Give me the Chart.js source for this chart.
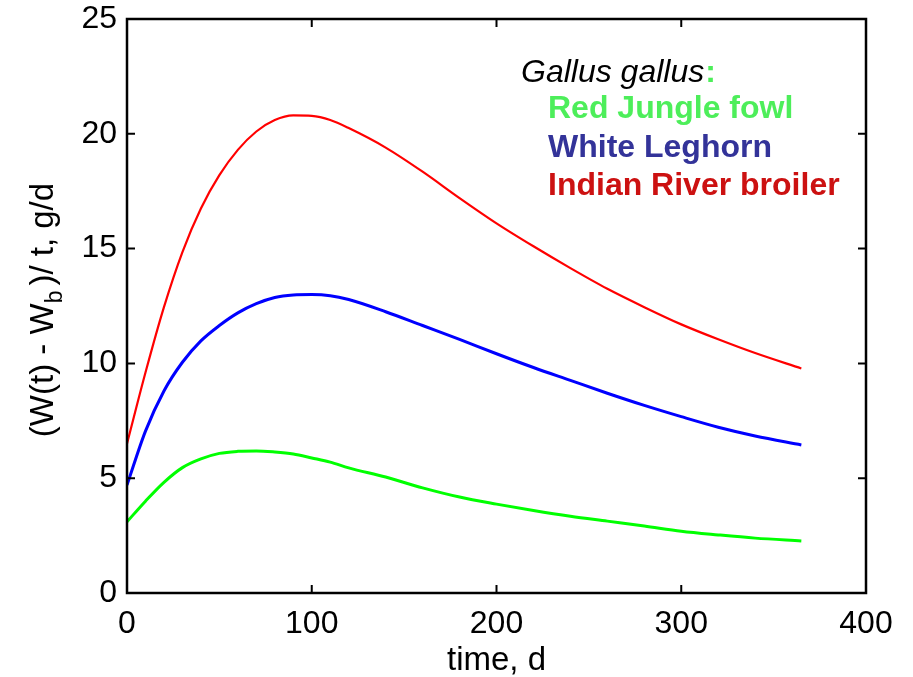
<html>
<head>
<script src="https://cdn.jsdelivr.net/npm/chart.js@4.4.0/dist/chart.umd.min.js"></script>
<style>
    body { margin: 0; background: #fff; }
    #wrap { position: relative; width: 913px; height: 677px; }
</style>
</head>
<body>
<div id="wrap"><canvas id="growthChart"></canvas></div>
<script>
// time in days, values in g/d
const days = [0, 10, 20, 30, 40, 50, 60, 70, 80, 90, 100, 110, 120, 140, 160, 180, 200, 220, 240, 260, 280, 300, 320, 340, 365];
const jungleFowl = [3.1, 4.0, 4.82, 5.46, 5.84, 6.08, 6.17, 6.19, 6.14, 6.05, 5.88, 5.7, 5.45, 5.05, 4.58, 4.18, 3.87, 3.59, 3.34, 3.13, 2.92, 2.69, 2.53, 2.39, 2.27];
const leghorn = [4.7, 7.05, 8.8, 10.05, 10.98, 11.65, 12.2, 12.6, 12.87, 12.98, 13.0, 12.95, 12.78, 12.25, 11.65, 11.05, 10.42, 9.82, 9.26, 8.7, 8.17, 7.68, 7.22, 6.84, 6.45];
const broiler = [6.5, 9.6, 12.45, 14.85, 16.75, 18.2, 19.3, 20.1, 20.6, 20.8, 20.78, 20.6, 20.25, 19.4, 18.35, 17.2, 16.1, 15.1, 14.15, 13.25, 12.45, 11.7, 11.05, 10.45, 9.78];

const xTicks = [0, 100, 200, 300, 400];
const yTicks = [0, 5, 10, 15, 20, 25];

const speciesLabel = "Gallus gallus";
const breedNames = ["Red Jungle fowl", "White Leghorn", "Indian River broiler"];
const breedTextColors = ["#4dee5a", "#333399", "#cc1111"];

const FONT = '"Liberation Sans", Arial, sans-serif';

function pts(vals) {
    return days.map((d, i) => ({ x: d, y: vals[i] }));
}

// box, inward ticks, titles and the text legend
const decorPlugin = {
    id: 'decor',
    afterDraw(chart) {
        const ctx = chart.ctx;
        const a = chart.chartArea;
        const xs = chart.scales.x, ys = chart.scales.y;
        ctx.save();
        ctx.strokeStyle = '#000';
        ctx.lineWidth = 2.5;
        ctx.strokeRect(a.left, a.top, a.right - a.left, a.bottom - a.top);
        ctx.lineWidth = 2;
        ctx.beginPath();
        xTicks.forEach(v => {
            const p = xs.getPixelForValue(v);
            ctx.moveTo(p, a.bottom); ctx.lineTo(p, a.bottom - 8);
            ctx.moveTo(p, a.top); ctx.lineTo(p, a.top + 8);
        });
        yTicks.forEach(v => {
            const p = ys.getPixelForValue(v);
            ctx.moveTo(a.left, p); ctx.lineTo(a.left + 8, p);
            ctx.moveTo(a.right, p); ctx.lineTo(a.right - 8, p);
        });
        ctx.stroke();

        // x title
        ctx.fillStyle = '#000';
        ctx.font = '33px ' + FONT;
        ctx.textAlign = 'center';
        ctx.textBaseline = 'alphabetic';
        ctx.fillText('time, d', (a.left + a.right) / 2, 670);

        // y title with subscript
        const p1 = '(W(t) - W', sub = 'b', p2 = ')/ t, g/d';
        ctx.font = '33px ' + FONT;
        const w1 = ctx.measureText(p1).width;
        const w3 = ctx.measureText(p2).width;
        ctx.font = '23px ' + FONT;
        const w2 = ctx.measureText(sub).width;
        const total = w1 + w2 + 5 + w3;
        ctx.translate(53, 310);
        ctx.rotate(-Math.PI / 2);
        ctx.textAlign = 'left';
        let x0 = -total / 2;
        ctx.font = '33px ' + FONT;
        ctx.fillText(p1, x0, 0);
        ctx.font = '23px ' + FONT;
        ctx.fillText(sub, x0 + w1, 9);
        ctx.font = '33px ' + FONT;
        ctx.fillText(p2, x0 + w1 + w2 + 5, 0);
        ctx.restore();

        // legend text
        ctx.save();
        ctx.textAlign = 'left';
        ctx.textBaseline = 'alphabetic';
        ctx.font = 'italic 32px ' + FONT;
        ctx.fillStyle = '#000';
        ctx.fillText(speciesLabel, 521, 82);
        const sw = ctx.measureText(speciesLabel).width;
        ctx.fillStyle = breedTextColors[0];
        ctx.font = 'bold 32px ' + FONT;
        ctx.fillText(':', 521 + sw + 1, 82);
        breedNames.forEach((n, i) => {
            ctx.fillStyle = breedTextColors[i];
            ctx.fillText(n, 548, 118 + i * 38.5);
        });
        ctx.restore();
    }
};

new Chart(document.getElementById('growthChart'), {
    type: 'line',
    data: {
        datasets: [
            { label: breedNames[0], data: pts(jungleFowl), borderColor: '#00ff00', borderWidth: 3 },
            { label: breedNames[1], data: pts(leghorn), borderColor: '#0000ff', borderWidth: 3 },
            { label: breedNames[2], data: pts(broiler), borderColor: '#ff0000', borderWidth: 2.2 }
        ].map(d => Object.assign(d, { pointRadius: 0, fill: false, cubicInterpolationMode: 'monotone' }))
    },
    options: {
        responsive: true,
        maintainAspectRatio: false,
        animation: false,
        layout: { padding: { left: 0, top: 19, right: 47, bottom: 0 } },
        plugins: { legend: { display: false }, tooltip: { enabled: false } },
        scales: {
            x: {
                type: 'linear',
                min: 0, max: 400,
                afterBuildTicks: s => { s.ticks = xTicks.map(v => ({ value: v })); },
                afterFit: s => { s.height = 84; s.paddingLeft = 0; s.paddingRight = 0; },
                grid: { display: false, drawTicks: false },
                border: { display: false },
                ticks: { color: '#000', font: { family: FONT, size: 32 }, padding: 12, maxRotation: 0 }
            },
            y: {
                min: 0, max: 25,
                afterBuildTicks: s => { s.ticks = yTicks.map(v => ({ value: v })); },
                afterFit: s => { s.width = 127; s.paddingTop = 0; s.paddingBottom = 0; },
                grid: { display: false, drawTicks: false },
                border: { display: false },
                ticks: { color: '#000', font: { family: FONT, size: 32 }, padding: 10 }
            }
        }
    },
    plugins: [decorPlugin]
});
</script>
</body>
</html>
